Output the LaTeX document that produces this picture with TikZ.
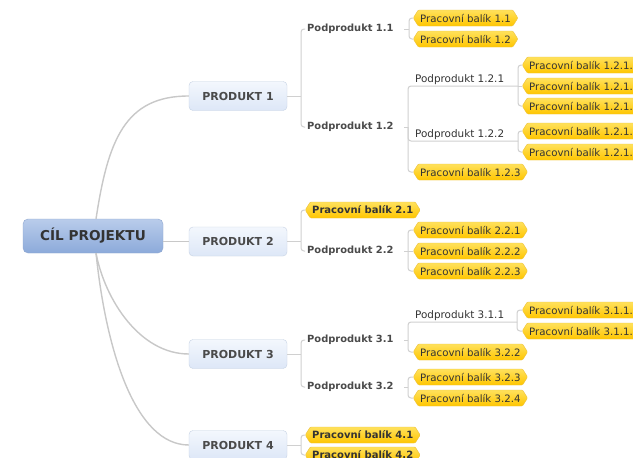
\documentclass[tikz,border=0pt]{standalone}
\usepackage{fontspec}
\setmainfont{DejaVu Sans}
\usetikzlibrary{shapes.symbols}
\definecolor{linegray}{HTML}{D0D0D0}
\definecolor{curvegray}{HTML}{C8C8C8}
\definecolor{rootedge}{HTML}{8FA7CF}
\definecolor{roottop}{HTML}{B9CCEB}
\definecolor{rootbot}{HTML}{8CAADA}
\definecolor{prodedge}{HTML}{C6D2E4}
\definecolor{prodtop}{HTML}{F3F7FD}
\definecolor{prodbot}{HTML}{DDE7F7}
\definecolor{wpedge}{HTML}{EDC23A}
\definecolor{wptop}{HTML}{FFE15C}
\definecolor{wpbot}{HTML}{FFC600}
\definecolor{textdark}{HTML}{333333}
\definecolor{textmid}{HTML}{4A4A4A}

\begin{document}
\begin{tikzpicture}[x=1pt,y=-1pt,
		conn/.style={draw=linegray,line width=1pt},
		fork/.style={conn,rounded corners=3pt},
		branch/.style={draw=curvegray,line width=1.4pt},
		cil/.style={draw=rootedge,rounded corners=5pt,top color=roottop,bottom color=rootbot,minimum width=140pt,minimum height=34pt,font=\fontsize{13.6}{15}\selectfont\bfseries,text=textdark},
		produkt/.style={draw=prodedge,rounded corners=4pt,top color=prodtop,bottom color=prodbot,minimum width=98pt,minimum height=29pt,font=\fontsize{11}{13}\selectfont\bfseries,text=textmid},
		podb/.style={anchor=west,text width=95pt,align=left,inner xsep=2pt,font=\fontsize{9.9}{11}\selectfont\bfseries,text=textmid},
		podr/.style={anchor=south west,inner xsep=7pt,inner ysep=1.5pt,font=\fontsize{10.4}{12}\selectfont,text=textdark},
		balik/.style={signal,signal to=west and east,signal pointer angle=116,rounded corners=1pt,draw=wpedge,top color=wptop,bottom color=wpbot,minimum height=16pt,inner xsep=2pt,inner ysep=1pt,anchor=west,font=\fontsize{10.2}{12}\selectfont,text=textdark},
		balikb/.style={balik,font=\fontsize{10}{12}\selectfont\bfseries}]
			%%%%% START %%%%%
			\useasboundingbox[fill=white] (0,0) rectangle (633,458);
			
			% koren a produkty
			\node[cil] (cil) at (93,236) {CÍL PROJEKTU};
			\node[produkt] (p1) at (238,96) {PRODUKT 1};
			\node[produkt] (p2) at (238,241.5) {PRODUKT 2};
			\node[produkt] (p3) at (238,354) {PRODUKT 3};
			\node[produkt] (p4) at (238,445) {PRODUKT 4};
			
			% podprodukty
			\node[podb] (s11) at (305,29) {Podprodukt 1.1};
			\node[podb] (s12) at (305,127) {Podprodukt 1.2};
			\node[podb] (s22) at (305,251) {Podprodukt 2.2};
			\node[podb] (s31) at (305,340) {Podprodukt 3.1};
			\node[podb] (s32) at (305,387) {Podprodukt 3.2};
			\node[podr] (s121) at (408,86) {Podprodukt 1.2.1};
			\node[podr] (s122) at (408,141) {Podprodukt 1.2.2};
			\node[podr] (s311) at (408,322) {Podprodukt 3.1.1};
			
			% pracovni baliky
			\node[balik] (w11) at (413,18) {Pracovní balík 1.1};
			\node[balik] (w12) at (413,39) {Pracovní balík 1.2};
			\node[balik] (w1211) at (522,65) {Pracovní balík 1.2.1.1};
			\node[balik] (w1212) at (522,86) {Pracovní balík 1.2.1.2};
			\node[balik] (w1213) at (522,106) {Pracovní balík 1.2.1.3};
			\node[balik] (w1214) at (522,131) {Pracovní balík 1.2.1.4};
			\node[balik] (w1215) at (522,152) {Pracovní balík 1.2.1.5};
			\node[balik] (w123) at (413,172) {Pracovní balík 1.2.3};
			\node[balikb] (w21) at (305,210) {Pracovní balík 2.1};
			\node[balik] (w221) at (413,230) {Pracovní balík 2.2.1};
			\node[balik] (w222) at (413,251) {Pracovní balík 2.2.2};
			\node[balik] (w223) at (413,271) {Pracovní balík 2.2.3};
			\node[balik] (w3111) at (522,310) {Pracovní balík 3.1.1.1};
			\node[balik] (w3112) at (522,331) {Pracovní balík 3.1.1.2};
			\node[balik] (w322) at (413,352) {Pracovní balík 3.2.2};
			\node[balik] (w323) at (413,377) {Pracovní balík 3.2.3};
			\node[balik] (w324) at (413,398) {Pracovní balík 3.2.4};
			\node[balikb] (w41) at (305,435) {Pracovní balík 4.1};
			\node[balikb] (w42) at (305,455) {Pracovní balík 4.2};
			
			% uzly vetveni
			\coordinate (j1) at (301,96);
			\coordinate (j2) at (301,241.5);
			\coordinate (j3) at (301,354);
			\coordinate (j4) at (301,445);
			\coordinate (j11) at (409,29);
			\coordinate (j12) at (408,127);
			\coordinate (j22) at (408,251);
			\coordinate (j31) at (408,340);
			\coordinate (j32) at (408,387);
			\coordinate (j121) at (518,86);
			\coordinate (j122) at (518,141);
			\coordinate (j311) at (517,322);
			
			% hlavni vetve
			\draw[branch] (cil.80) .. controls (108,140) and (125,96) .. (p1.west);
			\draw[branch] (cil.east |- p2.west) -- (p2.west);
			\draw[branch] (cil.-80) .. controls (105,300) and (140,354) .. (p3.west);
			\draw[branch] (cil.-80) .. controls (106,350) and (135,445) .. (p4.west);
			
			% produkty -> podprodukty
			\draw[conn] (p1.east) -- (j1);
			\draw[fork] (j1) |- (s11.west);
			\draw[fork] (j1) |- (s12.west);
			\draw[conn] (p2.east) -- (j2);
			\draw[fork] (j2) |- (w21.west);
			\draw[fork] (j2) |- (s22.west);
			\draw[conn] (p3.east) -- (j3);
			\draw[fork] (j3) |- (s31.west);
			\draw[fork] (j3) |- (s32.west);
			\draw[conn] (p4.east) -- (j4);
			\draw[fork] (j4) |- (w41.west);
			\draw[fork] (j4) |- (w42.west);
			
			% podprodukty -> baliky
			\draw[conn] (s11.east) -- (j11);
			\draw[fork] (j11) |- (w11.west);
			\draw[fork] (j11) |- (w12.west);
			\draw[conn] (s12.east) -- (j12);
			\draw[fork] (j12) |- (j121);
			\draw[fork] (j12) |- (j122);
			\draw[fork] (j12) |- (w123.west);
			\draw[conn] (s22.east) -- (j22);
			\draw[fork] (j22) |- (w221.west);
			\draw[conn] (j22) -- (w222.west);
			\draw[fork] (j22) |- (w223.west);
			\draw[conn] (s31.east) -- (j31);
			\draw[fork] (j31) |- (j311);
			\draw[fork] (j31) |- (w322.west);
			\draw[conn] (s32.east) -- (j32);
			\draw[fork] (j32) |- (w323.west);
			\draw[fork] (j32) |- (w324.west);
			
			\draw[fork] (j121) |- (w1211.west);
			\draw[conn] (j121) -- (w1212.west);
			\draw[fork] (j121) |- (w1213.west);
			\draw[fork] (j122) |- (w1214.west);
			\draw[fork] (j122) |- (w1215.west);
			\draw[fork] (j311) |- (w3111.west);
			\draw[fork] (j311) |- (w3112.west);
			%%%%% END %%%%%
\end{tikzpicture}
\end{document}
